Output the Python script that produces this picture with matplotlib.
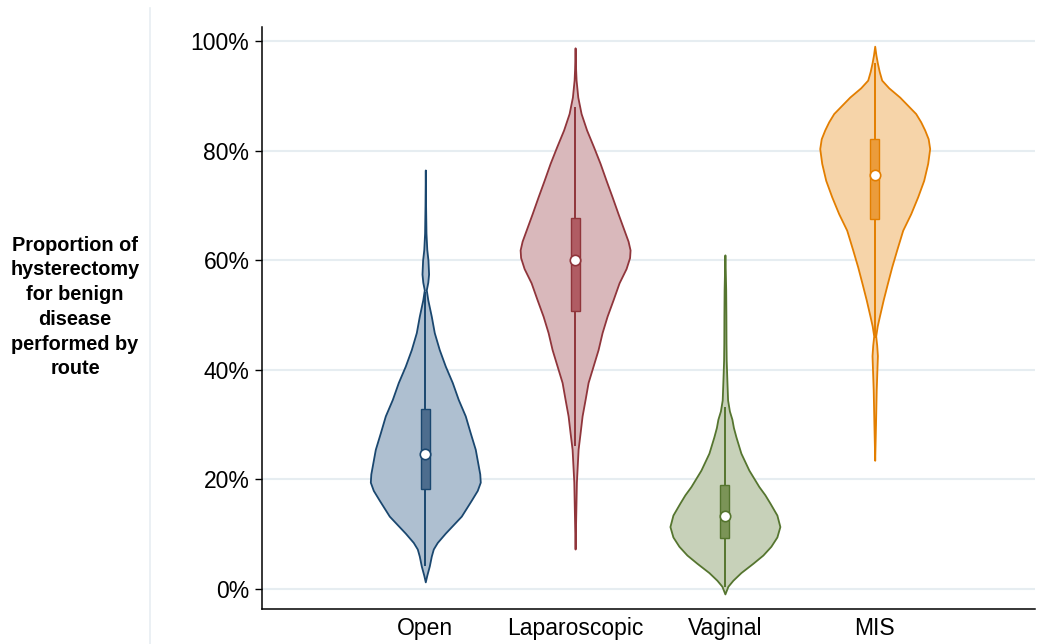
import matplotlib
matplotlib.use("Agg")
import matplotlib.pyplot as plt
import numpy as np
from matplotlib.lines import Line2D

plt.rcParams['font.family'] = ['Liberation Sans', 'DejaVu Sans']

routes = ["Open", "Laparoscopic", "Vaginal", "MIS"]

# violin outlines: (proportion %, relative density)
open_y = [1.3, 2.5, 4.2, 6, 7.3, 8.5, 10.2, 13.3, 16.2, 18, 19.5, 21, 22.5, 25.5, 28.5, 31.6,
          34.6, 37.7, 40.7, 43.7, 46.8, 49.8, 52.8, 54.6, 56, 57.5, 60, 62, 65, 70, 76.5]
open_d = [0, 1.5, 4, 6, 8, 12, 20, 36, 46, 52, 55, 54.5, 53, 50, 45, 40,
          33, 27, 20, 14, 9, 6, 2.5, 1, 2.5, 3.3, 2.7, 1.5, 0.7, 0.3, 0]

lap_y = [7.3, 12, 19.5, 25.5, 28.5, 31.6, 34.6, 37.7, 40.7, 43.7, 46.8, 49.8, 52.8, 55.9, 58.5,
         60.5, 61.9, 63.5, 65.5, 68.5, 71.6, 74.6, 77.7, 80.7, 83.8, 86.8, 89.8, 92.9, 95, 98.8]
lap_d = [0, 0.5, 1.3, 3, 5, 7, 10, 13, 18, 23, 27, 32, 38, 44, 51,
         54.5, 55, 53, 49, 43, 37, 31, 25, 18.5, 11.5, 6, 2.7, 1, 0.5, 0]

vag_y = [-0.9, 0.5, 1.6, 3, 4.7, 6.2, 7.8, 9.5, 11.4, 13.5, 15.7, 17.2, 18.7, 21.7, 24.8, 27.8,
         29.5, 31, 32.5, 34.5, 38, 41.8, 45, 50, 54.6, 58, 61]
vag_d = [0, 3, 8, 16, 28, 38, 46, 52, 55, 52, 45, 40, 34, 24, 16, 11,
         8.5, 7, 4.5, 2.7, 2, 1.3, 1.1, 1, 0.8, 0.4, 0]

mis_y = [23.5, 30, 36.3, 40, 42.6, 44.5, 46.2, 48, 49.8, 52.8, 55.8, 58.8, 61.9, 65.5, 68.5, 71.6,
         74.6, 77.7, 80.4, 82.2, 83.8, 85.3, 86.8, 89.8, 91.5, 92.9, 94.5, 96, 97.5, 99.1]
mis_d = [0, 0.8, 1.5, 2.2, 2.7, 2, 1, 2.5, 4.7, 8.5, 12.7, 17, 22, 28, 36, 43,
         49, 53, 55, 53.5, 50, 46, 41, 25, 14, 7, 4.5, 2.7, 1.2, 0]

# box summaries (%)
whisk_lo = [4.2, 26.1, 0.4, 45.8]
q1 = [18.2, 50.7, 9.3, 67.6]
median = [24.7, 60.0, 13.4, 75.6]
q3 = [32.8, 67.7, 19.0, 82.2]
whisk_hi = [54.3, 88.0, 33.2, 96.0]

profiles = [(open_y, open_d), (lap_y, lap_d), (vag_y, vag_d), (mis_y, mis_d)]
line_cols = ["#1a476f", "#90353b", "#55752f", "#e37e00"]
fill_cols = ["#aebfd0", "#d9b8bb", "#c7d1b9", "#f6d4a9"]
box_cols = ["#4d6d8e", "#b05c63", "#7b9457", "#eb9c3c"]

fig = plt.figure(figsize=(10.5, 6.44), dpi=100)
ax = fig.add_axes([262 / 1050, 1 - 609 / 644, 773 / 1050, 582 / 644])

half = 0.367
for i, (yy, dd) in enumerate(profiles):
    pos = i + 1
    yy = np.array(yy)
    dd = np.array(dd) / max(dd) * half
    ax.fill_betweenx(yy, pos - dd, pos + dd, facecolor=fill_cols[i],
                     edgecolor=line_cols[i], linewidth=1.3, zorder=3)
    ax.vlines(pos, whisk_lo[i], whisk_hi[i], color=line_cols[i], linewidth=1.4, zorder=4)
    ax.bar(pos, q3[i] - q1[i], bottom=q1[i], width=0.06, color=box_cols[i],
           edgecolor=line_cols[i], linewidth=1.0, zorder=5)
    ax.plot(pos, median[i], "o", markersize=7.5, markerfacecolor="white",
            markeredgecolor=line_cols[i], markeredgewidth=1.2, zorder=6)

ax.set_xlim(-0.09, 5.07)
ax.set_ylim(-3.65, 102.6)
ax.set_yticks([0, 20, 40, 60, 80, 100])
ax.set_yticklabels(["%d%%" % v for v in [0, 20, 40, 60, 80, 100]])
ax.set_xticks([1, 2, 3, 4])
ax.set_xticklabels(routes)
ax.tick_params(axis="y", labelsize=16.5, length=5, width=1, pad=4)
ax.tick_params(axis="x", labelsize=16.5, length=0, pad=6)
ax.grid(axis="y", color="#e6edf1", linewidth=1.5, zorder=0)
ax.set_axisbelow(True)
for s in ["top", "right"]:
    ax.spines[s].set_visible(False)
for s in ["left", "bottom"]:
    ax.spines[s].set_linewidth(1.1)

fig.text(75 / 1050, 1 - 307 / 644,
         "Proportion of\nhysterectomy\nfor benign\ndisease\nperformed by\nroute",
         ha="center", va="center", fontsize=14.3, fontweight="bold", linespacing=1.38)
fig.add_artist(Line2D([150 / 1050, 150 / 1050], [0, 1 - 8 / 644], color="#e8eef2", linewidth=1.2))

fig.savefig("out.png", dpi=100)
